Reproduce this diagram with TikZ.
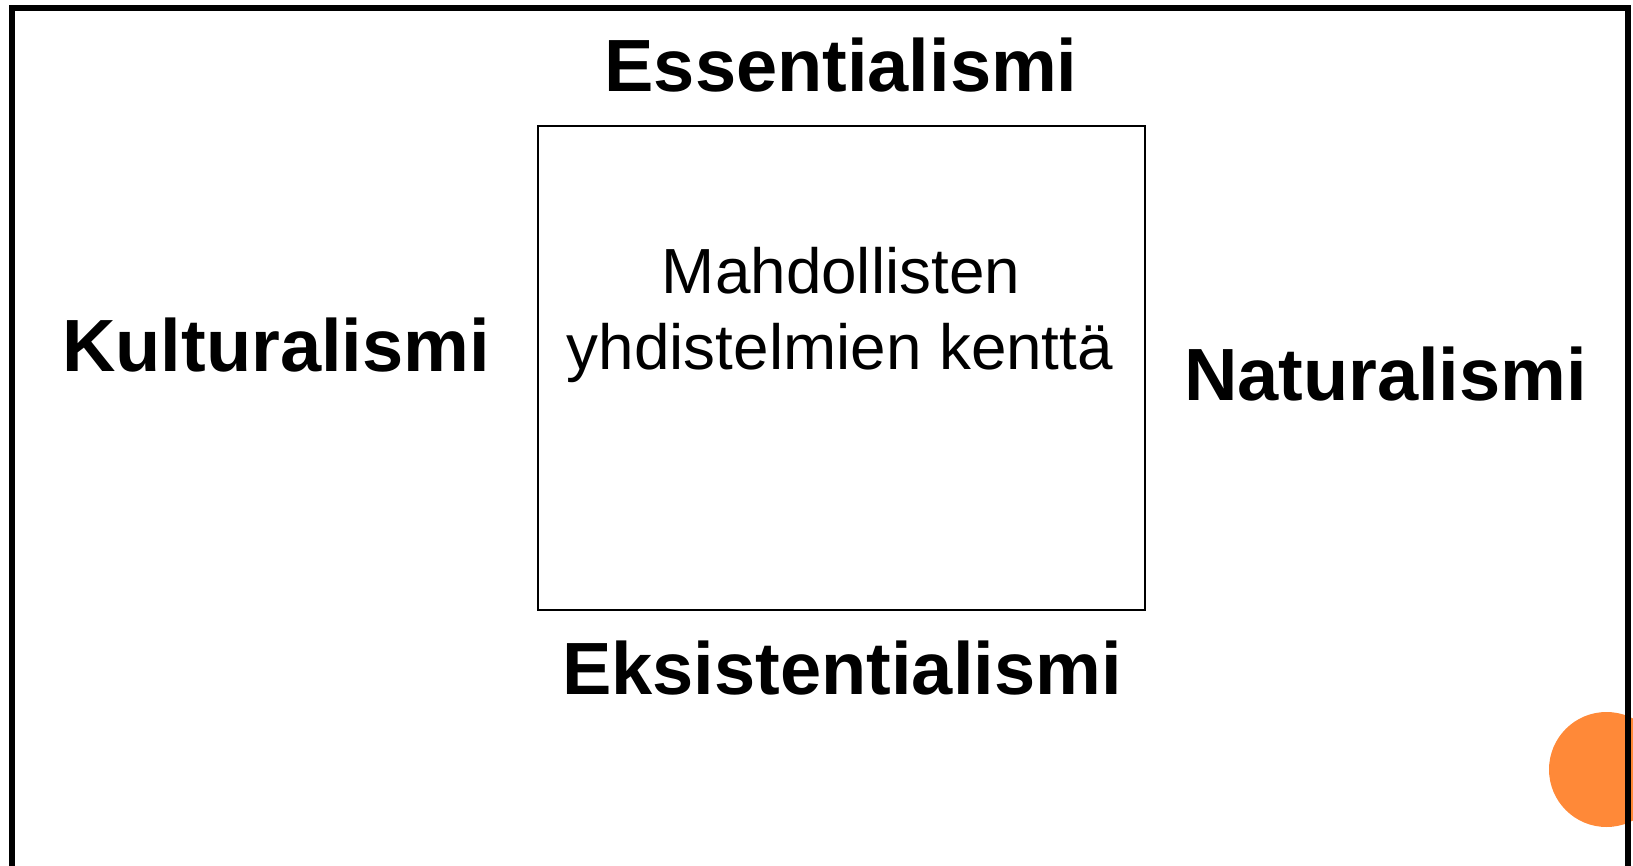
\documentclass[tikz,border=0pt]{standalone}
\usepackage{fontspec}
\setmainfont{Liberation Sans}
\definecolor{accent}{RGB}{255,137,56}
\begin{document}
\begin{tikzpicture}[x=1pt,y=-1pt,
  label/.style={anchor=base,inner sep=0pt,font=\fontsize{74}{80}\selectfont\bfseries},
  body/.style={anchor=base,inner sep=0pt,font=\fontsize{63.8}{76}\selectfont}]
\useasboundingbox (0,0) rectangle (1633,866);
% orange dot
\fill[accent] (1606.5,769.5) circle[radius=57.5];
% outer frame (open at the bottom)
\draw[line width=6pt,line join=miter] (12,866) -- (12,8) -- (1627.5,8) -- (1627.5,866);
% inner field
\node[draw,line width=1.5pt,minimum width=607pt,minimum height=484pt,inner sep=0pt] (field) at (841.5,368) {};
\node[body] (t1) at (841,294) {Mahdollisten};
\node[body] (t2) at (840,370) {yhdistelmien kenttä};
% labels
\node[label] (ess) at (841,92) {Essentialismi};
\node[label] (kul) at (276,372) {Kulturalismi};
\node[label] (nat) at (1385.5,400) {Naturalismi};
\node[label] (eks) at (842,694) {Eksistentialismi};
\end{tikzpicture}
\end{document}
